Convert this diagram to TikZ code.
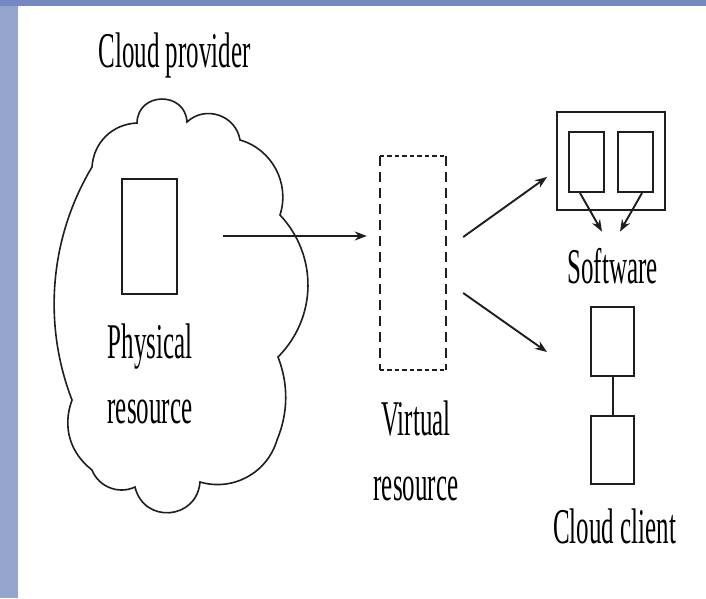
\documentclass[tikz,border=0pt]{standalone}
\usepackage{fontspec}
\newfontfamily\narrowserif[FakeStretch=0.5]{Liberation Serif}
\usetikzlibrary{arrows.meta}
\definecolor{slideblue}{RGB}{118,136,192}
\definecolor{sideblue}{RGB}{150,165,206}
\definecolor{ink}{RGB}{30,30,30}
\tikzstyle{lbl} = [inner sep=0pt, align=center, font=\narrowserif\fontsize{50}{65}\selectfont]
\tikzstyle{box} = [draw=ink, line width=2pt, inner sep=0pt]
\tikzstyle{dashbox} = [inner sep=0pt]
\tikzstyle{arrow} = [line width=1.9pt, draw=ink, ->, >={Stealth[length=12pt,width=9pt]}]

\begin{document}
\begin{tikzpicture}[x=1pt,y=-1pt]
\useasboundingbox (0,0) rectangle (706,598);
% slide frame
\fill [white] (0,0) rectangle (706,598);
\fill [sideblue] (0,0) rectangle (18,598);
\fill [slideblue] (0,0) rectangle (706,6);

% provider side
\node (provider) [lbl, anchor=base] at (174.5,67) {Cloud provider};
\draw [ink, line width=1.6pt] (92,167) to[bend left=42] (137,123)
  to[bend left=88, looseness=1.6] (187,122) to[bend left=62, looseness=1.15] (240,140)
  to[bend left=46] (280,215) to[bend left=44] (278,357)
  to[bend left=22, looseness=0.9] (277,440) to[bend left=45] (200,482)
  to[bend left=81, looseness=1.5] (135,487) to[bend left=47] (92,470)
  to[bend left=36] (72,400) to[bend left=26, looseness=0.9] (92,167) -- cycle;
\node (phys) [box, minimum width=55pt, minimum height=115pt] at (149.5,236.5) {};
\node (physlbl) [lbl] at (150,373.5) {Physical\\resource};

% virtual resource
\node (virt) [dashbox, minimum width=66pt, minimum height=214pt] at (413,263) {};
\draw [ink, line width=2pt, dash pattern=on 4.5pt off 3pt] (virt.north west) -- (virt.north east) (virt.south west) -- (virt.south east);
\draw [ink, line width=2pt, dash pattern=on 10pt off 6pt] (virt.north west) -- (virt.south west) (virt.north east) -- (virt.south east);
\node (virtlbl) [lbl] at (416,450.5) {Virtual\\resource};

% software
\node (soft) [box, minimum width=108pt, minimum height=98pt] at (611,161) {};
\node (swl) [box, minimum width=35pt, minimum height=60pt] at (586.5,162) {};
\node (swr) [box, minimum width=35pt, minimum height=60pt] at (635.5,162) {};
\node (softlbl) [lbl, anchor=base] at (612.5,283) {Software};
\draw [arrow] ([xshift=-6.5pt]swl.south) -- ([xshift=-10.5pt,yshift=16pt]softlbl.north);
\draw [arrow] ([xshift=6.5pt]swr.south) -- ([xshift=7.5pt,yshift=16pt]softlbl.north);

% cloud client
\node (cli1) [box, minimum width=43pt, minimum height=69pt] at (612.5,341.5) {};
\node (cli2) [box, minimum width=43pt, minimum height=68pt] at (612.5,450) {};
\draw [ink, line width=2pt] (cli1) -- (cli2);
\node (clilbl) [lbl, anchor=base] at (614.5,543) {Cloud client};

\coordinate (physout) at (223,236);
\draw [arrow, shorten >=13pt] (physout) -- (physout -| virt.west);
\draw [arrow] ([xshift=17pt,yshift=26pt]virt.east) -- ([xshift=-9pt,yshift=-16pt]soft.west);
\draw [arrow] ([xshift=17pt,yshift=-30pt]virt.east) -- ([xshift=-43pt,yshift=-10.5pt]cli1.west);

\end{tikzpicture}
\end{document}
